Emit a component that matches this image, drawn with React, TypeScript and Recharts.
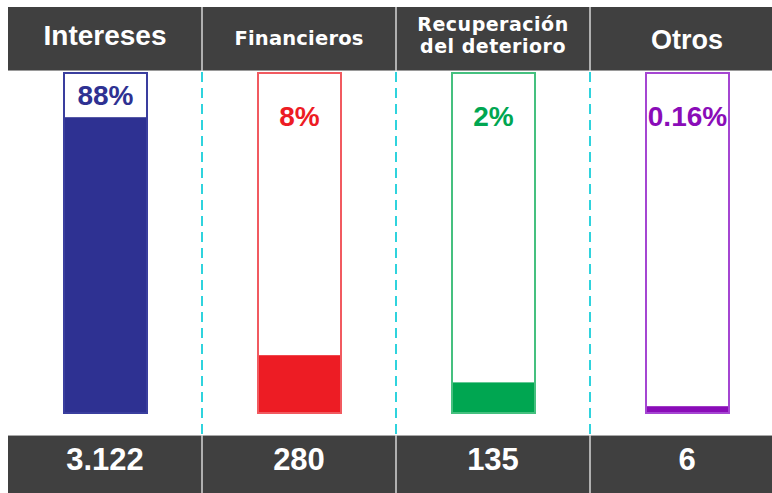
import { BarChart, Bar, XAxis, YAxis } from 'recharts';

// Ingresos por tipo
const categories = ['Intereses', 'Financieros', 'Recuperación\ndel deterioro', 'Otros'];
const shares = [88, 8, 2, 0.16];
const amounts = [3122, 280, 135, 6];
const levels = [87, 17, 9, 2];

const data = categories.map((name, i) => ({
  name,
  share: shares[i],
  amount: amounts[i],
  level: levels[i],
}));

const FILL = ['#2E3192', '#ED1C24', '#00A651', '#8A0CB8'];
const EDGE = ['#3A3E9E', '#F15A60', '#45C07F', '#A546D2'];
const TEXT = ['#2E3192', '#ED1C24', '#00A651', '#8A0CB8'];

const FONT = '"Liberation Sans", Arial, sans-serif';
const WIDE = '"DejaVu Sans", sans-serif';
const W = 800;
const H = 500;
const LEFT = 8;
const RIGHT = 16;
const TOP = 7;
const HEAD_H = 66;
const PLOT_H = 340;
const FOOT_H = 82;
const BAND = (W - LEFT - RIGHT) / categories.length;
const PLOT_TOP = TOP + HEAD_H;
const PLOT_BOTTOM = PLOT_TOP + PLOT_H;
const FOOT_TOP = PLOT_BOTTOM + 22;

// header text per column: font, size, spacing, baselines
const HEAD_STYLE = [
  { font: FONT, size: 28, spacing: 0, base: [45] },
  { font: WIDE, size: 19.5, spacing: 0.2, base: [45] },
  { font: WIDE, size: 19, spacing: 0.5, base: [31, 53] },
  { font: FONT, size: 27, spacing: 0, base: [49] },
];

const fmt = (n: number) => String(n).replace(/\B(?=(\d{3})+(?!\d))/g, '.');

function HeaderTick(props: any) {
  const { x, payload, index } = props;
  const st = HEAD_STYLE[index];
  const lines = String(payload.value).split('\n');
  const left = x - BAND / 2;
  return (
    <g>
      <rect x={left} y={TOP} width={BAND} height={HEAD_H - 2} fill="#404040" />
      <line x1={left} x2={left + BAND} y1={TOP + HEAD_H - 2.5} y2={TOP + HEAD_H - 2.5} stroke="#9a9a9a" strokeWidth={1} />
      {index > 0 && (
        <>
          <line x1={left} x2={left} y1={TOP} y2={TOP + HEAD_H - 2} stroke="#d6d6d6" strokeWidth={1.5} />
          <line x1={left} x2={left} y1={TOP + HEAD_H - 1} y2={FOOT_TOP} stroke="#2FD3DD" strokeWidth={2} strokeDasharray="10 6" />
        </>
      )}
      {lines.map((t, k) => (
        <text key={k} x={x} y={st.base[k]} textAnchor="middle" fill="#ffffff" fontFamily={st.font} fontWeight="bold" fontSize={st.size} letterSpacing={st.spacing}>
          {t}
        </text>
      ))}
    </g>
  );
}

function FooterTick(props: any) {
  const { x, index } = props;
  const left = x - BAND / 2;
  return (
    <g>
      <rect x={left} y={FOOT_TOP} width={BAND} height={H - FOOT_TOP} fill="#404040" />
      <line x1={left} x2={left + BAND} y1={FOOT_TOP + 0.5} y2={FOOT_TOP + 0.5} stroke="#a8a8a8" strokeWidth={1} />
      {index > 0 && (
        <line x1={left} x2={left} y1={FOOT_TOP} y2={H} stroke="#d6d6d6" strokeWidth={1.5} />
      )}
      <text x={x} y={470} textAnchor="middle" fill="#ffffff" fontFamily={FONT} fontWeight="bold" fontSize={31}>
        {fmt(amounts[index])}
      </text>
    </g>
  );
}

function Thermo(props: any) {
  const { x, y, width, height, index, payload } = props;
  const bg = props.background || {};
  const boxTop = bg.y ?? PLOT_TOP;
  const boxH = bg.height ?? PLOT_H;
  const labelY = Math.min(boxTop + 43, (boxTop + y) / 2);
  return (
    <g>
      <rect x={x} y={boxTop} width={width} height={boxH} fill="#ffffff" />
      <rect x={x} y={y} width={width} height={height} fill={FILL[index]} />
      <rect x={x} y={boxTop} width={width} height={boxH} fill="none" stroke={EDGE[index]} strokeWidth={2} />
      <text x={x + width / 2} y={labelY + 10} textAnchor="middle" fill={TEXT[index]} fontFamily={FONT} fontWeight="bold" fontSize={28}>
        {`${payload.share}%`}
      </text>
    </g>
  );
}

export default function App() {
  return (
    <div style={{ position: 'absolute', left: 0, top: 0, width: 772, height: 493, overflow: 'hidden', background: '#fff' }}>
      <BarChart width={W} height={H} data={data} margin={{ top: TOP, left: LEFT, right: RIGHT, bottom: H - TOP - HEAD_H - PLOT_H - FOOT_H }}>
        <XAxis xAxisId="top" dataKey="name" orientation="top" height={HEAD_H} axisLine={false} tickLine={false} interval={0} tick={<HeaderTick />} />
        <XAxis xAxisId="bottom" dataKey="name" orientation="bottom" height={FOOT_H} axisLine={false} tickLine={false} interval={0} tick={<FooterTick />} />
        <YAxis hide domain={[0, 100]} />
        <Bar xAxisId="top" dataKey="level" barSize={83} shape={<Thermo />} isAnimationActive={false} />
      </BarChart>
    </div>
  );
}
